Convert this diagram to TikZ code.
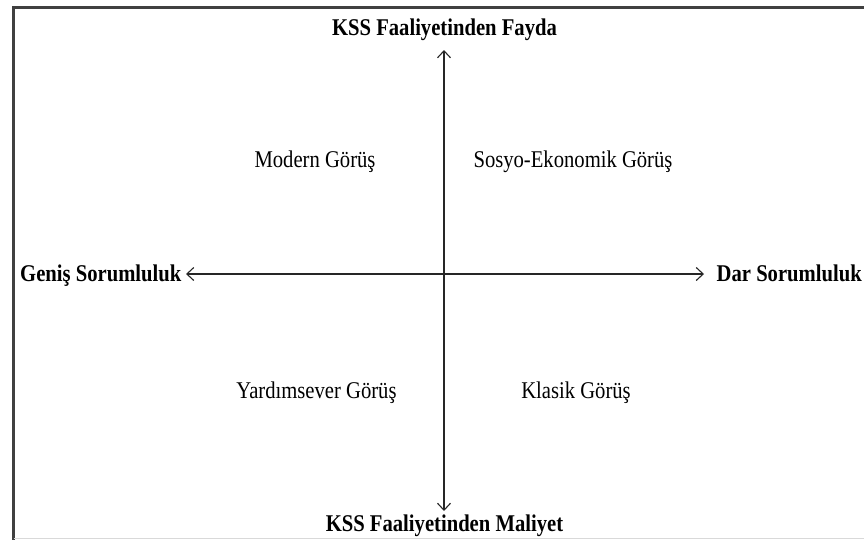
\documentclass[tikz,border=0pt]{standalone}
\usepackage{fontspec}
\setmainfont{Liberation Serif}[FakeStretch=0.86]
\usetikzlibrary{arrows.meta}
\begin{document}
\begin{tikzpicture}[x=1pt,y=-1pt,
  axis/.style={draw=black!85, line width=1.3pt, {Straight Barb[length=7pt,width=13pt,line width=1.1pt]}-{Straight Barb[length=7pt,width=13pt,line width=1.1pt]}},
  pole/.style={font=\fontsize{24}{26}\selectfont\bfseries, inner sep=0pt, anchor=base},
  view/.style={font=\fontsize{24}{26}\selectfont, inner sep=0pt, anchor=base}]
\useasboundingbox (0,0) rectangle (864,539);
% frame
\draw[line width=2.2pt, black!75] (13.5,545) -- (13.5,7.5) -- (870,7.5);
\draw[line width=1pt, black!15] (13.5,538) -- (864,538);
% pole labels
\node[pole] (top) at (444.5,35) {KSS Faaliyetinden Fayda};
\node[pole] (bot) at (444.5,531.5) {KSS Faaliyetinden Maliyet};
\node[pole, anchor=base west] (left) at (20,281.5) {Geniş Sorumluluk};
\node[pole, anchor=base east] (right) at (862,281.5) {Dar Sorumluluk};
% axis end points
\coordinate (ttip) at (444,50);
\coordinate (btip) at (444,511);
\coordinate (ltip) at (186,274);
\coordinate (rtip) at (704,274);
\draw[axis] (btip) -- (ttip);
\draw[axis] (ltip) -- (rtip);
% quadrant labels
\node[view] (q1) at (315,167) {Modern Görüş};
\node[view] (q2) at (573,167) {Sosyo-Ekonomik Görüş};
\node[view] (q3) at (316.5,398) {Yardımsever Görüş};
\node[view] (q4) at (576,398) {Klasik Görüş};
\end{tikzpicture}
\end{document}
